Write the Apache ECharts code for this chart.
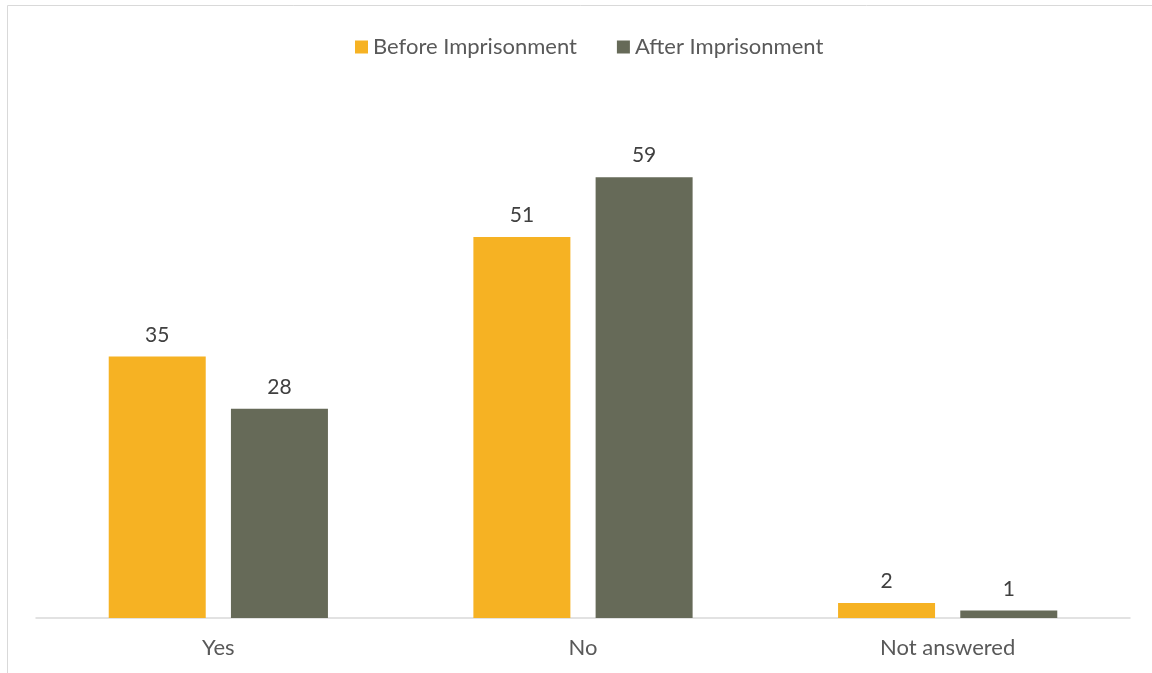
<!DOCTYPE html>
<html>
<head>
<meta charset="utf-8">
<script src="https://cdn.jsdelivr.net/npm/echarts@6/dist/echarts.min.js"></script>
<style>
  html, body { margin: 0; padding: 0; background: #fff; }
  #chart { width: 1152px; height: 673px; }
</style>
</head>
<body>
<div id="chart"></div>
<script>
const categories = ['Yes', 'No', 'Not answered']
const beforeValues = [35, 51, 2]
const afterValues = [28, 59, 1]
const seriesNames = ['Before Imprisonment', 'After Imprisonment']

const textColor = '#595959'
const font = 'Lato, "Open Sans", sans-serif'

const chart = echarts.init(document.getElementById('chart'))

chart.setOption({
  animation: false,
  textStyle: { fontFamily: font },
  graphic: [{
    type: 'rect',
    shape: { x: 7.5, y: 5.5, width: 1160, height: 700 },
    style: { fill: 'none', stroke: '#d9d9d9', lineWidth: 1 },
    silent: true
  }],
  legend: {
    top: 31,
    left: 350,
    itemWidth: 13,
    itemHeight: 13,
    itemGap: 40,
    icon: 'rect',
    textStyle: { color: textColor, fontSize: 22, fontFamily: font }
  },
  grid: {
    top: 95,
    bottom: 55,
    left: 36,
    right: 22,
    containLabel: false
  },
  xAxis: {
    type: 'category',
    data: categories,
    axisLine: { lineStyle: { color: '#d9d9d9', width: 1.5 } },
    axisTick: { show: false },
    axisLabel: { color: textColor, fontSize: 22, margin: 19, fontFamily: font }
  },
  yAxis: {
    type: 'value',
    min: 0,
    max: 70,
    show: false,
    splitLine: { show: false }
  },
  series: [{
    name: seriesNames[0],
    type: 'bar',
    data: beforeValues,
    barWidth: 97,
    barGap: '26%',
    itemStyle: { color: '#f6b223' },
    label: { show: true, position: 'top', distance: 11, color: '#404040', fontSize: 21, fontFamily: font }
  }, {
    name: seriesNames[1],
    type: 'bar',
    data: afterValues,
    barWidth: 97,
    barGap: '26%',
    itemStyle: { color: '#666a58' },
    label: { show: true, position: 'top', distance: 11, color: '#404040', fontSize: 21, fontFamily: font }
  }]
})
</script>
</body>
</html>
